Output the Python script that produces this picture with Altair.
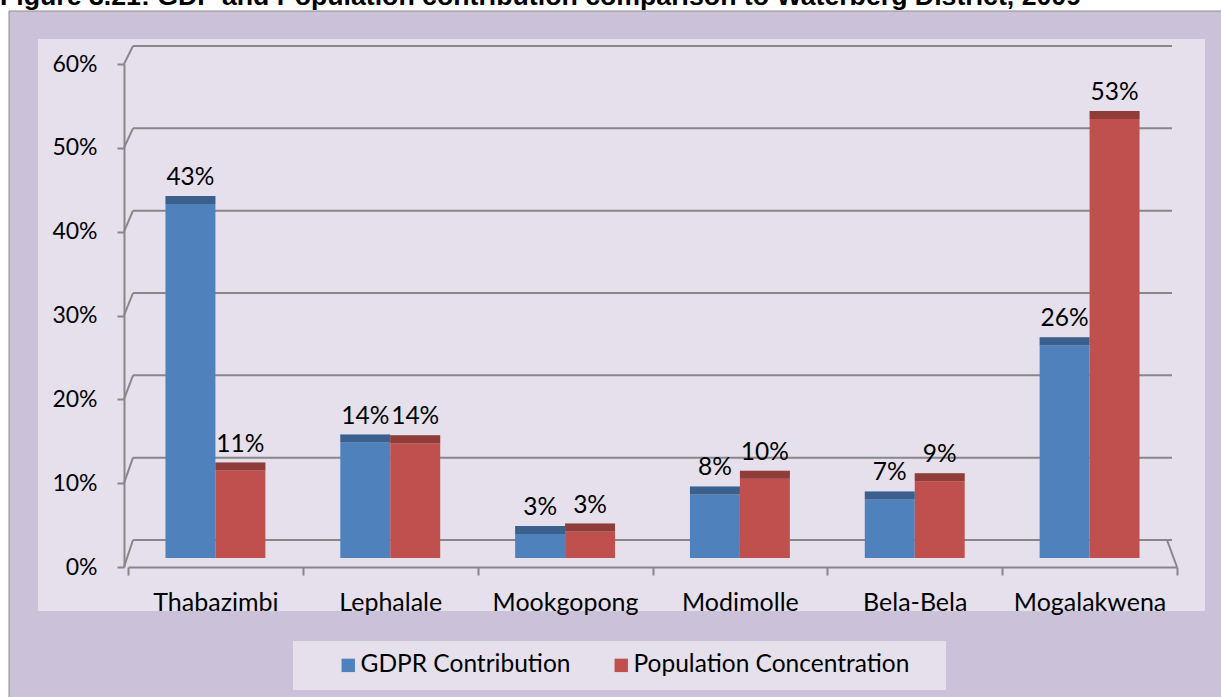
import altair as alt
import pandas as pd

# ---- data ----
categories = ["Thabazimbi", "Lephalale", "Mookgopong", "Modimolle", "Bela-Bela", "Mogalakwena"]
series_names = ["GDPR Contribution", "Population Concentration"]
gdpr = [0.429, 0.140, 0.029, 0.077, 0.071, 0.258]
population = [0.106, 0.139, 0.032, 0.096, 0.093, 0.532]
tick_values = [0.0, 0.1, 0.2, 0.3, 0.4, 0.5, 0.6]
colors = ["#4f81bd", "#c0504d"]
title_text = "Figure 3.21: GDP and Population contribution comparison to Waterberg District, 2009"

rows = []
for c, g, p in zip(categories, gdpr, population):
    rows.append({"cat": c, "series": series_names[0], "value": g})
    rows.append({"cat": c, "series": series_names[1], "value": p})
bars_df = pd.DataFrame(rows)
ticks_df = pd.DataFrame({"t": tick_values})
one = pd.DataFrame({"a": [0]})

# ---- layout (plot area) ----
PL, PT, W, H = 128, 46, 1049, 521
PR = 1221 - PL - W
PB = 697 - PT - H
GRID = "#878787"
FONT = "Lato"

front_scale = alt.Scale(domain=[0, 0.6], range=[521, 18], nice=False, zero=False)
back_scale = alt.Scale(domain=[0, 0.6], range=[494, 0], nice=False, zero=False)
bar_scale = alt.Scale(domain=[0, 0.6], range=[512, 17], nice=False, zero=False)

# backgrounds
frame = alt.Chart(one).mark_rect(fill="#cbc2da", stroke="#8c8c8c", strokeWidth=1).encode(
    x=alt.value(9 - PL), x2=alt.value(1221 - PL + 20),
    y=alt.value(11 - PT), y2=alt.value(697 - PT + 20))
panel = alt.Chart(one).mark_rect(fill="#e5e0ec").encode(
    x=alt.value(38 - PL), x2=alt.value(1205 - PL),
    y=alt.value(39 - PT), y2=alt.value(611 - PT))
legend_box = alt.Chart(one).mark_rect(fill="#e5e0ec").encode(
    x=alt.value(293 - PL), x2=alt.value(946 - PL),
    y=alt.value(641 - PT), y2=alt.value(690 - PT))
title = alt.Chart(one).mark_text(
    align="left", baseline="alphabetic", font="Liberation Sans", fontWeight="bold",
    fontSize=26.7, color="black").encode(
    x=alt.value(0 - PL), y=alt.value(5 - PT), text=alt.value(title_text))

# back wall gridlines
back_grid = alt.Chart(ticks_df).mark_rule(color=GRID, strokeWidth=2).encode(
    x=alt.value(5), x2=alt.value(1044),
    y=alt.Y("t:Q", scale=back_scale, axis=None))

# left wall connectors + front y axis
front = alt.Chart(ticks_df).transform_calculate(
    tb="(27 + datum.t * 494 / 0.6) * 0.6 / 503"
).mark_rule(color=GRID, strokeWidth=2).encode(
    x=alt.value(-4), x2=alt.value(5),
    y=alt.Y("t:Q", scale=front_scale, title=None,
            axis=alt.Axis(values=tick_values, format=".0%", grid=False, offset=4,
                          domainColor=GRID, domainWidth=2, tickColor=GRID, tickWidth=2,
                          tickSize=7, labelFont=FONT, labelFontSize=23, labelColor="black",
                          labelPadding=20, zindex=1)),
    y2="tb:Q")

floor_right = alt.Chart(one).mark_rule(color=GRID, strokeWidth=2).encode(
    x=alt.value(1039), x2=alt.value(1049), y=alt.value(494), y2=alt.value(521))

# bars
x_enc = alt.X("cat:N", sort=categories, title=None,
              scale=alt.Scale(paddingInner=0, paddingOuter=0),
              axis=alt.Axis(tickBand="extent", domainColor=GRID, domainWidth=2,
                            tickColor=GRID, tickWidth=2, tickSize=8, labelAngle=0,
                            labelFont=FONT, labelFontSize=25, labelColor="black",
                            labelPadding=15, zindex=1))
xo_enc = alt.XOffset("series:N", sort=series_names,
                     scale=alt.Scale(paddingInner=0, paddingOuter=0.75))

bars = alt.Chart(bars_df).mark_bar().encode(
    x=x_enc, xOffset=xo_enc,
    y=alt.Y("value:Q", scale=bar_scale, axis=None),
    y2=alt.datum(0),
    color=alt.Color("series:N", sort=series_names,
                    scale=alt.Scale(domain=series_names, range=colors),
                    legend=alt.Legend(orient="none", legendX=208, legendY=607,
                                      direction="horizontal", title=None,
                                      symbolType="square", symbolSize=180,
                                      symbolStrokeWidth=0, labelFont=FONT,
                                      labelFontSize=24.5, labelColor="black",
                                      labelLimit=0, labelOffset=0, columnPadding=38,
                                      padding=0, zindex=1)))
tops = alt.Chart(bars_df).mark_bar(y2Offset=-8).encode(
    x=x_enc, xOffset=xo_enc,
    y=alt.Y("value:Q", scale=bar_scale, axis=None),
    y2="value:Q",
    color=alt.Color("series:N", sort=series_names,
                    scale=alt.Scale(domain=series_names, range=colors)))
tops_shade = alt.Chart(bars_df).mark_bar(y2Offset=-8, color="black", opacity=0.25).encode(
    x=x_enc, xOffset=xo_enc,
    y=alt.Y("value:Q", scale=bar_scale, axis=None),
    y2="value:Q")
labels = alt.Chart(bars_df).mark_text(
    baseline="alphabetic", dy=-19, font=FONT, fontSize=24.5, color="black").encode(
    x=x_enc, xOffset=xo_enc,
    y=alt.Y("value:Q", scale=bar_scale, axis=None),
    text=alt.Text("value:Q", format=".0%"))

bar_group = alt.layer(bars, tops, tops_shade, labels)

chart = alt.layer(
    frame, panel, legend_box, title, back_grid, front, floor_right, bar_group
).resolve_scale(y="independent").properties(
    width=W, height=H,
    autosize=alt.AutoSizeParams(type="none"),
    padding={"left": PL, "top": PT, "right": PR, "bottom": PB},
    background="white",
).configure_view(stroke=None)

chart.save("out.html", embed_options={"renderer": "svg", "actions": False})
